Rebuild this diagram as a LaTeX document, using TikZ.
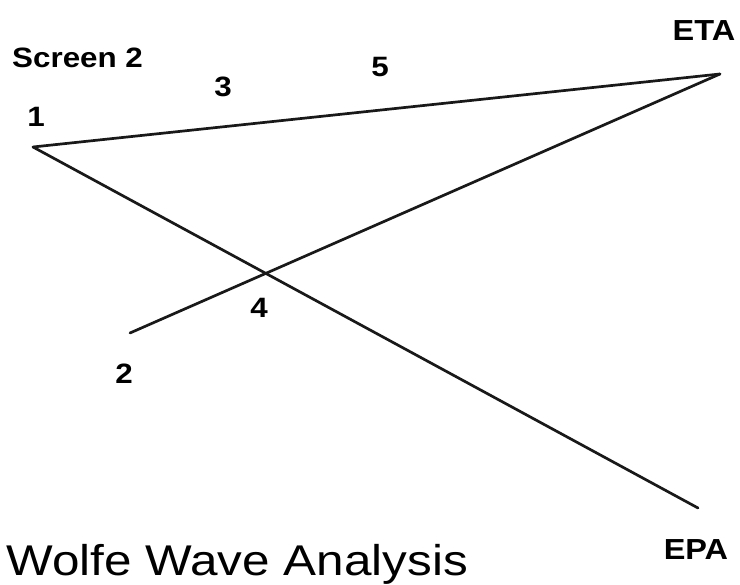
\documentclass[tikz,border=0pt]{standalone}
\usepackage{fontspec}
\setmainfont{Liberation Sans}
\begin{document}
\begin{tikzpicture}[x=1pt,y=-1pt,
  wave/.style={line width=2.7pt,line cap=round,line join=round,black!90},
  lbl/.style={inner sep=0pt,xscale=1.12,font=\fontsize{28}{28}\selectfont\bfseries},
  tag/.style={inner sep=0pt,xscale=1.12,font=\fontsize{29}{29}\selectfont\bfseries},
  title/.style={inner sep=0pt,xscale=1.15,font=\fontsize{43}{43}\selectfont}]
\useasboundingbox[fill=white] (0,0) rectangle (740,585);
% points
\coordinate (p1) at (33,147);
\coordinate (p2) at (130,333);
\coordinate (eta) at (720,74);
\coordinate (epa) at (698,508);
% lines
\draw[wave] (p1) -- (eta);
\draw[wave] (p1) -- (epa);
\draw[wave] (p2) -- (eta);
% labels
\node[lbl,anchor=base west] (screen) at (12,68) {Screen 2};
\node[lbl,anchor=base] (n1) at (36,127) {1};
\node[lbl,anchor=base] (n3) at (223,97) {3};
\node[lbl,anchor=base] (n5) at (380,77) {5};
\node[lbl,anchor=base] (n4) at (259,318) {4};
\node[lbl,anchor=base] (n2) at (124,384) {2};
\node[tag,anchor=base] (etal) at (704,41) {ETA};
\node[tag,anchor=base] (epal) at (696,560) {EPA};
\node[title,anchor=base west] (ttl) at (6,576) {Wolfe Wave Analysis};
\end{tikzpicture}
\end{document}
